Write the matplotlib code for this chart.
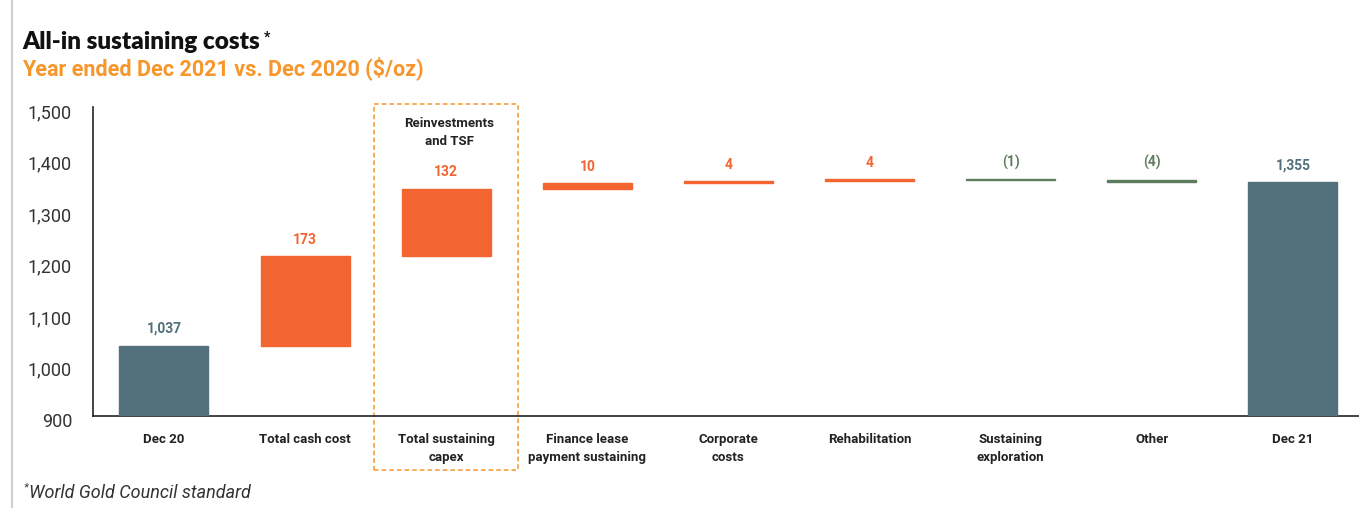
import matplotlib
matplotlib.use("Agg")
import matplotlib.pyplot as plt
import matplotlib.transforms as mtransforms
from matplotlib.patches import Rectangle
from matplotlib.lines import Line2D
from matplotlib import font_manager

# ---- data ----
categories = ["Dec 20", "Total cash cost", "Total sustaining\ncapex",
              "Finance lease\npayment sustaining", "Corporate\ncosts",
              "Rehabilitation", "Sustaining\nexploration", "Other", "Dec 21"]
start_total = 1037
changes = [173, 132, 10, 4, 4, -1, -4]
end_total = 1355
value_labels = ["1,037", "173", "132", "10", "4", "4", "(1)", "(4)", "1,355"]
y_ticks = [900, 1000, 1100, 1200, 1300, 1400, 1500]
y_tick_labels = ["900", "1,000", "1,100", "1,200", "1,300", "1,400", "1,500"]

# ---- styling ----
TEAL = "#52717C"
ORANGE = "#F26531"
GREEN = "#5E7D5E"
SUB_ORANGE = "#F7962A"
DARK = "#222222"

names = {f.name for f in font_manager.fontManager.ttflist}
COND = "Liberation Sans Narrow" if "Liberation Sans Narrow" in names else "Roboto"
cond_size = 10.5 if COND != "Roboto" else 9.5
plt.rcParams["font.family"] = ["Roboto", "DejaVu Sans"]

fig = plt.figure(figsize=(13.59, 5.08), dpi=100)
ax = fig.add_axes([0.0684, 0.181, 1.0 - 0.0684, 0.608])

x = list(range(len(categories)))
width = 0.63

# build waterfall segments
bottoms, heights, colors, label_colors = [], [], [], []
bottoms.append(900); heights.append(start_total - 900)
colors.append(TEAL); label_colors.append(TEAL)
running = start_total
for c in changes:
    if c >= 0:
        bottoms.append(running); heights.append(c)
        colors.append(ORANGE); label_colors.append(ORANGE)
    else:
        bottoms.append(running + c); heights.append(-c)
        colors.append(GREEN); label_colors.append(GREEN)
    running += c
bottoms.append(900); heights.append(end_total - 900)
colors.append(TEAL); label_colors.append(TEAL)

ax.bar(x, heights, bottom=bottoms, width=width, color=colors,
       edgecolor=colors, linewidth=1.0, zorder=3)

for xi, b, h, lab, lc in zip(x, bottoms, heights, value_labels, label_colors):
    ax.annotate(lab, xy=(xi, b + h), xytext=(0, 7), textcoords="offset points",
                ha="center", va="bottom", fontsize=cond_size + 0.5, fontweight="bold",
                color=lc, family=COND)

ax.set_ylim(900, 1500)
ax.set_xlim(-0.503, 8.468)
ax.set_yticks(y_ticks)
ax.set_yticklabels(y_tick_labels, fontsize=13, color="#333333")
ax.set_xticks(x)
ax.set_xticklabels(categories, fontsize=cond_size, fontweight="bold",
                   color=DARK, family=COND, linespacing=1.5)
ax.tick_params(axis="both", length=0)
ax.tick_params(axis="y", pad=15)
ax.tick_params(axis="x", pad=12)

off = mtransforms.ScaledTranslation(0, -3 / 72, fig.dpi_scale_trans)
for lbl in ax.get_yticklabels():
    lbl.set_transform(lbl.get_transform() + off)

for s in ["top", "right"]:
    ax.spines[s].set_visible(False)
for s in ["left", "bottom"]:
    ax.spines[s].set_linewidth(1.2)
    ax.spines[s].set_color("#222222")

# dashed highlight around sustaining capex
box = Rectangle((1.49, 795), 1.02, 712, fill=False, linestyle=(0, (3, 2)),
                edgecolor=SUB_ORANGE, linewidth=1.1, clip_on=False, zorder=1)
ax.add_patch(box)
ax.text(2.02, 1480, "Reinvestments\nand TSF", ha="center", va="top",
        fontsize=cond_size, fontweight="bold", color=DARK, family=COND,
        linespacing=1.5)

# titles
t = fig.text(22 / 1359, 1 - 42 / 508, "All-in sustaining costs", fontsize=17.5,
             fontweight="heavy", color="#111111", family=["Lato", "DejaVu Sans"],
             va="center", ha="left")
fig.text(22 / 1359, 1 - 68 / 508, "Year ended Dec 2021 vs. Dec 2020 ($/oz)",
         fontsize=15.5, fontweight="bold", color=SUB_ORANGE, va="center", ha="left")
ax.annotate("*", xy=(1, 1), xycoords=t, xytext=(3, 0), textcoords="offset points",
            ha="left", va="top", fontsize=10, fontweight="bold", color="#111111",
            annotation_clip=False)

fn = fig.text(29 / 1359, 1 - 493 / 508, "World Gold Council standard",
              fontsize=13, style="italic", color="#333333", va="center", ha="left")
ax.annotate("*", xy=(0, 1), xycoords=fn, xytext=(-1, 1), textcoords="offset points",
            ha="right", va="top", fontsize=8, style="italic", color="#333333",
            annotation_clip=False)

# page border on the left
fig.add_artist(Line2D([12 / 1359, 12 / 1359], [0, 1], transform=fig.transFigure,
                      color="#cfcfcf", linewidth=1.5))

fig.savefig("out.png", dpi=100)
